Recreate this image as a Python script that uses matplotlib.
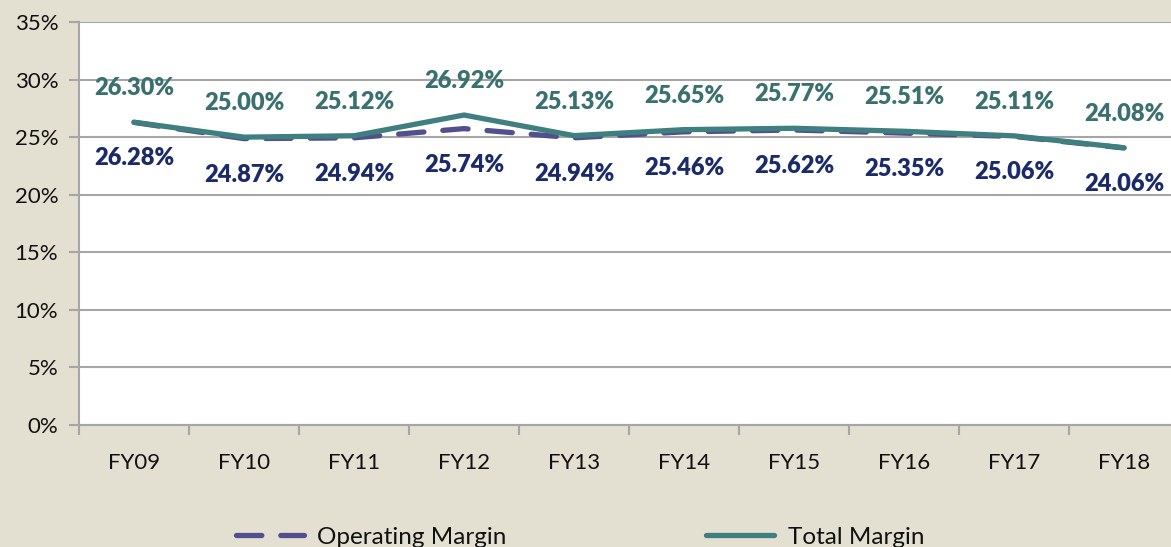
import matplotlib
matplotlib.use("Agg")
import matplotlib.pyplot as plt
from matplotlib.lines import Line2D
from matplotlib.ticker import FuncFormatter

categories = ["FY09", "FY10", "FY11", "FY12", "FY13", "FY14", "FY15", "FY16", "FY17", "FY18"]
operating_margin = [26.28, 24.87, 24.94, 25.74, 24.94, 25.46, 25.62, 25.35, 25.06, 24.06]
total_margin = [26.30, 25.00, 25.12, 26.92, 25.13, 25.65, 25.77, 25.51, 25.11, 24.08]
y_ticks = [0, 5, 10, 15, 20, 25, 30, 35]

BG = "#E3E0D1"
TEAL = "#3F7F80"
TEAL_TXT = "#3A7170"
NAVY_TXT = "#1B2A6A"
DASH = "#524F8E"
GRID = "#A6A6A6"
FONT = "Lato"

W, H = 1171, 547
fig = plt.figure(figsize=(W / 100, H / 100), dpi=100, facecolor=BG)
ax = fig.add_axes([79 / W, (H - 425) / H, 1100 / W, 403 / H])
ax.set_facecolor("white")

x = list(range(len(categories)))
ax.plot(x, operating_margin, color=DASH, lw=3.8, dashes=(4.8, 3.6), solid_capstyle="round",
        dash_capstyle="round", zorder=3)
ax.plot(x, total_margin, color=TEAL, lw=3.8, solid_capstyle="round", zorder=4)

for xi, v in zip(x, total_margin):
    ax.annotate(f"{v:.2f}%", (xi, v), xytext=(0, 34), textcoords="offset pixels",
                ha="center", va="center", fontsize=17, fontweight="heavy",
                color=TEAL_TXT, family=FONT, zorder=5)
for xi, v in zip(x, operating_margin):
    ax.annotate(f"{v:.2f}%", (xi, v), xytext=(0, -36), textcoords="offset pixels",
                ha="center", va="center", fontsize=17, fontweight="heavy",
                color=NAVY_TXT, family=FONT, zorder=5)

ax.set_xlim(-0.5, len(categories) - 0.5)
ax.set_ylim(0, 35)
ax.set_yticks(y_ticks)
ax.yaxis.set_major_formatter(FuncFormatter(lambda v, p: f"{v:.0f}%"))
ax.set_xticks([i - 0.5 for i in range(len(categories) + 1)])
ax.set_xticklabels([])
ax.set_xticks(x, minor=True)
ax.set_xticklabels(categories, minor=True)
ax.tick_params(axis="x", which="minor", length=0, pad=20, labelsize=16, labelcolor="#111111")
ax.tick_params(axis="x", which="major", length=7, width=1.5, color=GRID)
ax.tick_params(axis="y", length=7, width=1.5, color=GRID, pad=8, labelsize=16, labelcolor="#111111")
for lab in ax.get_xticklabels(minor=True) + ax.get_yticklabels():
    lab.set_family(FONT)

ax.grid(axis="y", color=GRID, lw=1.5, zorder=1)
ax.set_axisbelow(True)
for s in ["top", "right"]:
    ax.spines[s].set_visible(False)
ax.spines["left"].set_color(GRID)
ax.spines["left"].set_linewidth(1.5)
ax.spines["bottom"].set_color(GRID)
ax.spines["bottom"].set_linewidth(1.5)

handles = [
    Line2D([], [], color=DASH, lw=3.8, dashes=(4.8, 3.6), dash_capstyle="round"),
    Line2D([], [], color=TEAL, lw=3.8, solid_capstyle="round"),
]
leg = fig.legend(handles, ["Operating Margin", "Total Margin"], loc="center",
                 bbox_to_anchor=(580 / W, 10 / H), ncol=2, frameon=False,
                 prop={"family": FONT, "size": 17.5}, handlelength=2.8,
                 handletextpad=0.55, columnspacing=8.2, labelcolor="#111111")

fig.savefig("out.png", dpi=100, facecolor=BG)
